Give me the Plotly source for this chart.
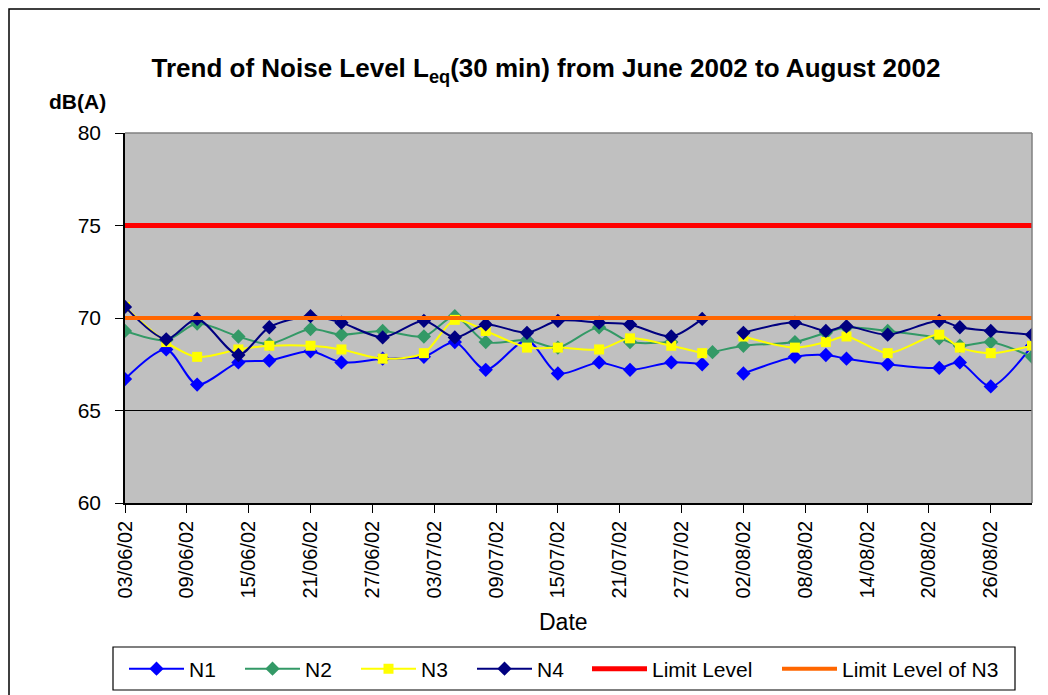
import plotly.graph_objects as go

dates = ['2002-06-03', '2002-06-07', '2002-06-10', '2002-06-14', '2002-06-17', '2002-06-21',
         '2002-06-24', '2002-06-28', '2002-07-02', '2002-07-05', '2002-07-08', '2002-07-12',
         '2002-07-15', '2002-07-19', '2002-07-22', '2002-07-26', '2002-07-29', '2002-07-30',
         '2002-08-02', '2002-08-07', '2002-08-10', '2002-08-12', '2002-08-16', '2002-08-21',
         '2002-08-23', '2002-08-26', '2002-08-30']

n1 = [66.7, 68.3, 66.4, 67.6, 67.7, 68.2, 67.6, 67.8, 67.9, 68.7, 67.2, 68.8, 67.0, 67.6,
      67.2, 67.6, 67.5, None, 67.0, 67.9, 68.0, 67.8, 67.5, 67.3, 67.6, 66.3, 68.5]
n2 = [69.3, 68.8, 69.7, 69.0, 68.6, 69.4, 69.1, 69.3, 69.0, 70.1, 68.7, 68.8, 68.4, 69.5,
      68.7, 68.7, None, 68.15, 68.5, 68.7, 69.2, 69.5, 69.3, 68.9, 68.5, 68.7, 67.9]
n3 = [70.6, 68.7, 67.9, 68.3, 68.5, 68.5, 68.3, 67.8, 68.1, 69.9, 69.3, 68.4, 68.4, 68.3,
      68.9, 68.5, 68.1, None, 69.0, 68.4, 68.7, 69.0, 68.1, 69.1, 68.4, 68.1, 68.5]
n4 = [70.6, 68.85, 69.95, 68.0, 69.5, 70.1, 69.75, 68.95, 69.85, 68.95, 69.65, 69.2, 69.85,
      69.75, 69.65, 69.0, 69.95, None, 69.2, 69.75, 69.3, 69.55, 69.1, 69.85, 69.5, 69.3, 69.1]

limit_level = 75
limit_level_n3 = 70

tick_dates = ['2002-06-03', '2002-06-09', '2002-06-15', '2002-06-21', '2002-06-27', '2002-07-03',
              '2002-07-09', '2002-07-15', '2002-07-21', '2002-07-27', '2002-08-02', '2002-08-08',
              '2002-08-14', '2002-08-20', '2002-08-26']
tick_labels = ['03/06/02', '09/06/02', '15/06/02', '21/06/02', '27/06/02', '03/07/02',
               '09/07/02', '15/07/02', '21/07/02', '27/07/02', '02/08/02', '08/08/02',
               '14/08/02', '20/08/02', '26/08/02']

FONT = 'Liberation Sans, Arial, sans-serif'

# figure sits 8px in from the page corner (browser body margin)
W, H = 1040, 687
PL, PR, PT, PB = 117, 16, 125, 192          # plot area: page x 125..1032, y 133..503
PW, PH = W - PL - PR, H - PT - PB


def px(xpage):
    return (xpage - 125) / PW


def py(ypage):
    return (503 - ypage) / PH


def cy(ypage):
    return 1 - (ypage - 8) / H


fig = go.Figure()

series = [
    ('N1', n1, '#0000FF', 'diamond'),
    ('N2', n2, '#339966', 'diamond'),
    ('N3', n3, '#FFFF00', 'square'),
    ('N4', n4, '#000080', 'diamond'),
]
for name, vals, col, sym in series:
    fig.add_trace(go.Scatter(
        x=dates, y=vals, name=name, mode='lines+markers',
        line=dict(color=col, width=2, shape='spline', smoothing=0.8),
        marker=dict(color=col, symbol=sym, size=11 if sym == 'diamond' else 10),
        connectgaps=False, legend='legend',
    ))

fig.add_trace(go.Scatter(
    x=[dates[0], dates[-1]], y=[limit_level, limit_level], name='Limit Level',
    mode='lines', line=dict(color='#FF0000', width=5), legend='legend2',
))
fig.add_trace(go.Scatter(
    x=[dates[0], dates[-1]], y=[limit_level_n3, limit_level_n3], name='Limit Level of N3',
    mode='lines', line=dict(color='#FF6600', width=4), legend='legend3',
))

legend_common = dict(
    orientation='h', xanchor='left', yref='container', y=cy(669), yanchor='middle',
    borderwidth=0, bgcolor='rgba(0,0,0,0)',
    font=dict(size=21, family=FONT, color='black'), itemwidth=55,
    traceorder='normal',
)

fig.update_layout(
    template='none',
    width=W, height=H,
    margin=dict(l=PL, r=PR, t=PT, b=PB, autoexpand=False),
    paper_bgcolor='white',
    plot_bgcolor='#C0C0C0',
    font=dict(family=FONT, color='black', size=20),
    title=dict(
        text='<b>Trend of Noise Level L<sub>eq</sub>(30 min) from June 2002 to August 2002</b>',
        x=538 / W, xanchor='center', y=1 - 60 / H, yanchor='middle',
        font=dict(size=26, family=FONT, color='black'),
    ),
    showlegend=True,
    legend=dict(legend_common, x=px(124), entrywidth=46, entrywidthmode='pixels'),
    legend2=dict(legend_common, x=px(587)),
    legend3=dict(legend_common, x=px(777)),
    xaxis=dict(
        type='date', range=[dates[0], dates[-1]], automargin=False,
        tickmode='array', tickvals=tick_dates, ticktext=tick_labels,
        tickangle=-90, ticks='outside', ticklen=8, tickcolor='black',
        showgrid=False, zeroline=False,
        showline=True, linecolor='black', linewidth=1.5,
        tickfont=dict(size=20, family=FONT),
    ),
    yaxis=dict(
        range=[60, 80], dtick=5, tick0=60, automargin=False,
        ticks='outside', ticklen=8, tickcolor='black',
        showgrid=True, gridcolor='black', gridwidth=1,
        zeroline=False, showline=True, linecolor='black', linewidth=1.5,
        tickfont=dict(size=21, family=FONT), ticklabelstandoff=10,
    ),
    shapes=[
        dict(type='line', xref='paper', yref='paper', x0=0, x1=1, y0=1, y1=1,
             line=dict(color='#808080', width=1.5), layer='above'),
        dict(type='line', xref='paper', yref='paper', x0=1, x1=1, y0=0, y1=1,
             line=dict(color='#808080', width=1.5), layer='above'),
        dict(type='rect', xref='paper', yref='paper',
             x0=px(9), x1=1.2, y0=-1.0, y1=py(9),
             line=dict(color='black', width=1.5), fillcolor='rgba(0,0,0,0)', layer='below'),
        dict(type='rect', xref='paper', yref='paper',
             x0=px(113), x1=px(1015), y0=py(690), y1=py(647),
             line=dict(color='black', width=1.2), fillcolor='rgba(0,0,0,0)', layer='below'),
    ],
    annotations=[
        dict(text='<b>dB(A)</b>', xref='paper', yref='paper',
             x=px(77), y=py(101), xanchor='center', yanchor='middle',
             showarrow=False, font=dict(size=21, family=FONT, color='black')),
        dict(text='Date', xref='paper', yref='paper',
             x=px(563), y=py(622), xanchor='center', yanchor='middle',
             showarrow=False, font=dict(size=23, family=FONT, color='black')),
    ],
)

fig.write_html('out.html')
